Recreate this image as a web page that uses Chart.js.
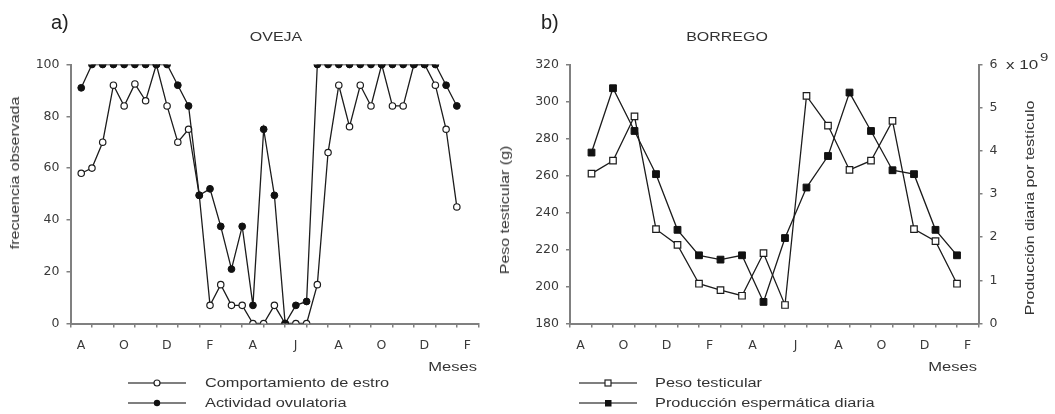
<!DOCTYPE html>
<html>
<head>
<meta charset="utf-8">
<script src="https://cdn.jsdelivr.net/npm/chart.js@4.4.1/dist/chart.umd.min.js"></script>
<style>
  html, body { margin:0; padding:0; background:#fff; }
  #wrap { position:relative; width:1055px; height:414px; overflow:hidden; font-family:"Liberation Sans", Arial, sans-serif; color:#333; }
  canvas { position:absolute; top:0; }
  .t { position:absolute; white-space:nowrap; font-size:12px; line-height:14px; }
  .c { transform: translate(-50%,-50%) scaleX(1.33); }
  .r { transform: translate(-50%,-50%) rotate(-90deg) scaleX(1.33); }
  .l { transform-origin: left center; transform: translateY(-50%) scaleX(1.36); }
  .rr { transform-origin: right center; transform: translate(-100%,-50%) scaleX(1.38); }
  .big { position:absolute; font-size:20px; line-height:20px; color:#222; }
  svg { position:absolute; left:0; top:0; }
</style>
</head>
<body>
<div id="wrap">
  <canvas id="c1" width="500" height="414" style="left:0;width:500px;height:414px"></canvas>
  <canvas id="c2" width="555" height="414" style="left:500px;width:555px;height:414px"></canvas>

  <div class="big" style="left:51px;top:12px">a)</div>
  <div class="big" style="left:541px;top:12px">b)</div>
  <div class="t c" style="left:276px;top:37px">OVEJA</div>
  <div class="t c" style="left:727px;top:37px">BORREGO</div>
  <div class="t r" style="left:15px;top:173px">frecuencia observada</div>
  <div class="t r" style="left:505px;top:210px">Peso testicular (g)</div>
  <div class="t r" style="left:1030px;top:208px">Producción diaria por testículo</div>
  <div class="t rr" style="left:477px;top:367px">Meses</div>
  <div class="t rr" style="left:977px;top:367px">Meses</div>
  <div class="t l" style="left:1006px;top:65px;font-size:12.5px">x 10</div>
  <div class="t l" style="left:1040px;top:57px;font-size:11px">9</div>

  <svg width="1055" height="414">
    <g stroke="#555" stroke-width="1.6">
      <line x1="128" y1="383" x2="186" y2="383"/>
      <line x1="128" y1="403" x2="186" y2="403"/>
      <line x1="579" y1="383" x2="637" y2="383"/>
      <line x1="579" y1="403" x2="637" y2="403"/>
    </g>
    <circle cx="157" cy="383" r="3" fill="#fff" stroke="#222" stroke-width="1.2"/>
    <circle cx="157" cy="403" r="3.2" fill="#111"/>
    <rect x="605" y="380" width="6" height="6" fill="#fff" stroke="#222" stroke-width="1.2"/>
    <rect x="605" y="400" width="6.5" height="6.5" fill="#111"/>
  </svg>
  <div class="t l" style="left:205px;top:383px">Comportamiento de estro</div>
  <div class="t l" style="left:205px;top:403px">Actividad ovulatoria</div>
  <div class="t l" style="left:655px;top:383px">Peso testicular</div>
  <div class="t l" style="left:655px;top:403px">Producción espermática diaria</div>
</div>

<script>
// ---------- DATA ----------
// x-axis: months counted from August (0) ; tick labels every two months
const monthTickLabels = ['A','','O','','D','','F','','A','','J','','A','','O','','D','','F',''];

// Panel a) OVEJA : fortnightly observations (month position)
const fortnights = [0.5,1,1.5,2,2.5,3,3.5,4,4.5,5,5.5,6,6.5,7,7.5,8,8.5,9,9.5,10,10.5,11,11.5,12,12.5,13,13.5,14,14.5,15,15.5,16,16.5,17,17.5,18];
const comportamientoEstro = [58,60,70,92,84,92.5,86,100,84,70,75,49.5,7,15,7,7,0,0,7,0,0,0,15,66,92,76,92,84,100,84,84,100,100,92,75,45];
const actividadOvulatoria = [91,100,100,100,100,100,100,100,100,92,84,49.5,52,37.5,21,37.5,7,75,49.5,0,7,8.5,100,100,100,100,100,100,100,100,100,100,100,100,92,84];

// Panel b) BORREGO : monthly observations
const months = [1,2,3,4,5,6,7,8,9,10,11,12,13,14,15,16,17,18];
const pesoTesticular = [261,268,292,231,222.5,201.5,198,195,218,190,303,287,263,268,289.5,231,224.5,201.5];
const produccionEspermatica = [3.96,5.45,4.46,3.46,2.17,1.58,1.48,1.58,0.5,1.98,3.15,3.88,5.35,4.46,3.55,3.46,2.17,1.58];

const yTicksA = [0,20,40,60,80,100];
const yTicksB = [180,200,220,240,260,280,300,320];
const yTicksB2 = [0,1,2,3,4,5,6];

// ---------- STYLE ----------
const AX = '#808080', TXT = '#3a3a3a', LINE = '#1c1c1c';
const tickFont = {family:'"DejaVu Sans", "Liberation Sans", sans-serif', size:12.5};
const pts = (xs, ys) => xs.map((x,i)=>({x, y:ys[i]}));
const fixTicks = vals => (scale => { scale.ticks = vals.map(v=>({value:v})); });

function xAxis() {
  return {
    type:'linear', min:0, max:19,
    afterBuildTicks: fixTicks(monthTickLabels.map((_,i)=>i)),
    ticks:{ autoSkip:false, maxRotation:0, labelOffset:10.5, padding:11, color:TXT, font:tickFont,
            callback:(v)=>monthTickLabels[v] },
    grid:{ drawOnChartArea:false, drawTicks:true, tickLength:4, color:AX, lineWidth:1.5 },
    border:{ display:true, color:AX, width:2 },
    afterFit(s){ s.height = 40; }
  };
}
function yAxis(pos, min, max, vals, w, pad) {
  return {
    type:'linear', position:pos, min, max,
    afterBuildTicks: fixTicks(vals),
    ticks:{ autoSkip:false, padding:pad, color:TXT, font:tickFont },
    grid:{ drawOnChartArea:false, drawTicks:true, tickLength:4, color:AX, lineWidth:1.5 },
    border:{ display:true, color:AX, width:2 },
    afterFit(s){ s.width = w; }
  };
}
const common = {
  animation:false, responsive:false, maintainAspectRatio:false,
  plugins:{ legend:{display:false}, tooltip:{enabled:false}, title:{display:false} },
  elements:{ line:{ tension:0, borderWidth:1.3, borderColor:LINE }, point:{ hitRadius:0 } }
};

new Chart(document.getElementById('c1'), {
  type:'line',
  data:{ datasets:[
    { label:'Comportamiento de estro', data:pts(fortnights, comportamientoEstro), borderColor:LINE,
      pointStyle:'circle', pointRadius:3.2, pointBackgroundColor:'#fff', pointBorderColor:LINE, pointBorderWidth:1.2, order:1 },
    { label:'Actividad ovulatoria', data:pts(fortnights, actividadOvulatoria), borderColor:LINE,
      pointStyle:'circle', pointRadius:3.4, pointBackgroundColor:'#111', pointBorderColor:'#111', pointBorderWidth:1, order:0 }
  ]},
  options:Object.assign({}, common, {
    layout:{ padding:{ left:0, top:64.5, right:21.7, bottom:50.5 } },
    scales:{ x:xAxis(), y:yAxis('left', 0, 100, yTicksA, 70.5, 7) }
  })
});

new Chart(document.getElementById('c2'), {
  type:'line',
  data:{ datasets:[
    { label:'Peso testicular', data:pts(months, pesoTesticular), yAxisID:'y', borderColor:LINE,
      pointStyle:'rect', pointRadius:4.6, pointBackgroundColor:'#fff', pointBorderColor:LINE, pointBorderWidth:1.2, order:1 },
    { label:'Producción espermática diaria', data:pts(months, produccionEspermatica), yAxisID:'y2', borderColor:LINE,
      pointStyle:'rect', pointRadius:4.8, pointBackgroundColor:'#111', pointBorderColor:'#111', pointBorderWidth:1, order:0 }
  ]},
  options:Object.assign({}, common, {
    layout:{ padding:{ left:0, top:64.5, right:36.5, bottom:50.5 } },
    scales:{
      x:xAxis(),
      y:yAxis('left', 180, 320, yTicksB, 70, 7),
      y2:yAxis('right', 0, 6, yTicksB2, 40, 7)
    }
  })
});
</script>
</body>
</html>
